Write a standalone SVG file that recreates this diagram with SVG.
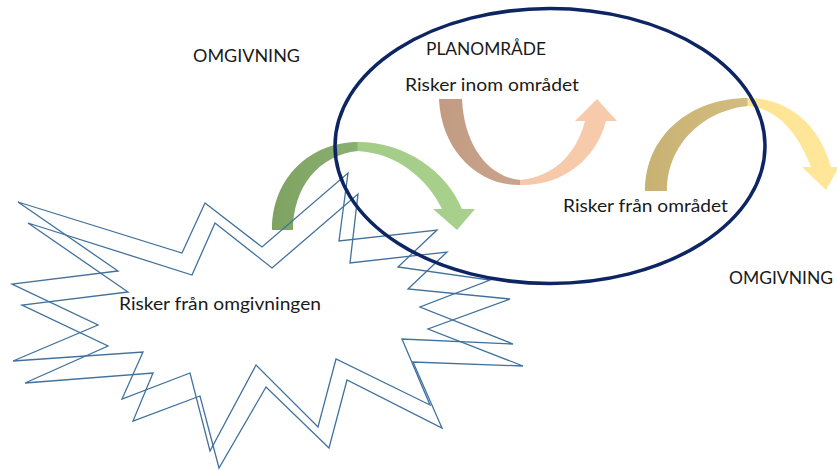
<svg xmlns="http://www.w3.org/2000/svg" width="837" height="470" viewBox="0 0 837 470">
  <style>
    .lbl { font-family: Lato, "Liberation Sans", "Open Sans", sans-serif; font-size: 17px; fill: #1a1a1a; }
    .burst { fill: none; stroke: #41719c; stroke-width: 1.3; stroke-linejoin: miter; }
    .plan { fill: none; stroke: #0e2563; stroke-width: 3.5; }
  </style>
  <defs>
    <linearGradient id="gDark" x1="0" y1="0" x2="1" y2="0">
      <stop offset="0" stop-color="#7ea262"/>
      <stop offset="1" stop-color="#8ab070"/>
    </linearGradient>
    <linearGradient id="gLight" x1="0" y1="0" x2="1" y2="0">
      <stop offset="0" stop-color="#a3cc87"/>
      <stop offset="1" stop-color="#a9d18e"/>
    </linearGradient>
    <linearGradient id="bDark" x1="0" y1="0" x2="1" y2="0">
      <stop offset="0" stop-color="#c29b82"/>
      <stop offset="1" stop-color="#c9a48c"/>
    </linearGradient>
    <linearGradient id="bLight" x1="0" y1="0" x2="1" y2="0">
      <stop offset="0" stop-color="#f5c8aa"/>
      <stop offset="1" stop-color="#f8cbad"/>
    </linearGradient>
    <linearGradient id="yDark" x1="0" y1="0" x2="1" y2="0">
      <stop offset="0" stop-color="#c8b273"/>
      <stop offset="1" stop-color="#d2bd80"/>
    </linearGradient>
    <linearGradient id="yLight" x1="0" y1="0" x2="1" y2="0">
      <stop offset="0" stop-color="#ffe494"/>
      <stop offset="1" stop-color="#ffe699"/>
    </linearGradient>
  </defs>

  <rect width="837" height="470" fill="#ffffff"/>

  <g id="connectors">
    <g id="arrow-from-surroundings">
      <path d="M272,230 C272,178 310,142 358,142 L358,151 C318,155 293,188 293,230 Z" fill="url(#gDark)"/>
      <path d="M357.5,142 C406,142 447,172 462,209 L475,209 L457,230 L433,209 L442,209 C428,180 398,153 357.5,151 Z" fill="url(#gLight)"/>
    </g>
    <g id="arrow-within-area">
      <path d="M439,99 L462,99 C464,145 488,177 520.5,180 L520.5,185 C478,186 441,150 439,99 Z" fill="url(#bDark)"/>
      <path d="M520,180 C553,177 576,155 585,121 L575,121 L597,99 L617,121 L606,121 C596,160 562,186 520,185 Z" fill="url(#bLight)"/>
    </g>
    <g id="arrow-from-area">
      <path d="M645,191 C645,136 690,98 748,98 L748,106 C706,110 667,142 667,191 Z" fill="url(#yDark)"/>
      <path d="M747.5,98 C790,98 820,126 831,167 L839,167 L826,190 L802,167 L811,167 C800,138 780,108 747.5,106 Z" fill="url(#yLight)"/>
    </g>
  </g>

  <g id="surroundings-risks">
    <polygon class="burst" points="18,202 182,253 205,203 262,247 348,173 339,241 437,230 398,267 490,280 420,307 513,344 402,339 430,405 336,359 318,427 256,365 210,451 190,373 122,399 143,352 13,361 98,325 12,284 118,271"/>
    <polygon class="burst" points="28,223 192,275 215,223 272,268 358,194 350,263 447,252 408,289 510,299 428,329 523,366 413,362 442,428 347,380 329,448 266,387 219,468 200,396 133,421 153,373 25,383 108,346 22,305 128,292"/>
    <text class="lbl" x="119" y="310" textLength="202" lengthAdjust="spacingAndGlyphs">Risker från omgivningen</text>
  </g>

  <g id="plan-area">
    <ellipse class="plan" cx="550" cy="146" rx="215" ry="137.5"/>
    <text class="lbl" x="426" y="55" textLength="120" lengthAdjust="spacingAndGlyphs">PLANOMRÅDE</text>
    <text class="lbl" x="405" y="91" textLength="174" lengthAdjust="spacingAndGlyphs">Risker inom området</text>
    <text class="lbl" x="563" y="212" textLength="165" lengthAdjust="spacingAndGlyphs">Risker från området</text>
  </g>

  <g id="surroundings-top">
    <text class="lbl" x="193" y="62" textLength="107" lengthAdjust="spacingAndGlyphs">OMGIVNING</text>
  </g>
  <g id="surroundings-right">
    <text class="lbl" x="729" y="284" textLength="104" lengthAdjust="spacingAndGlyphs">OMGIVNING</text>
  </g>
</svg>
